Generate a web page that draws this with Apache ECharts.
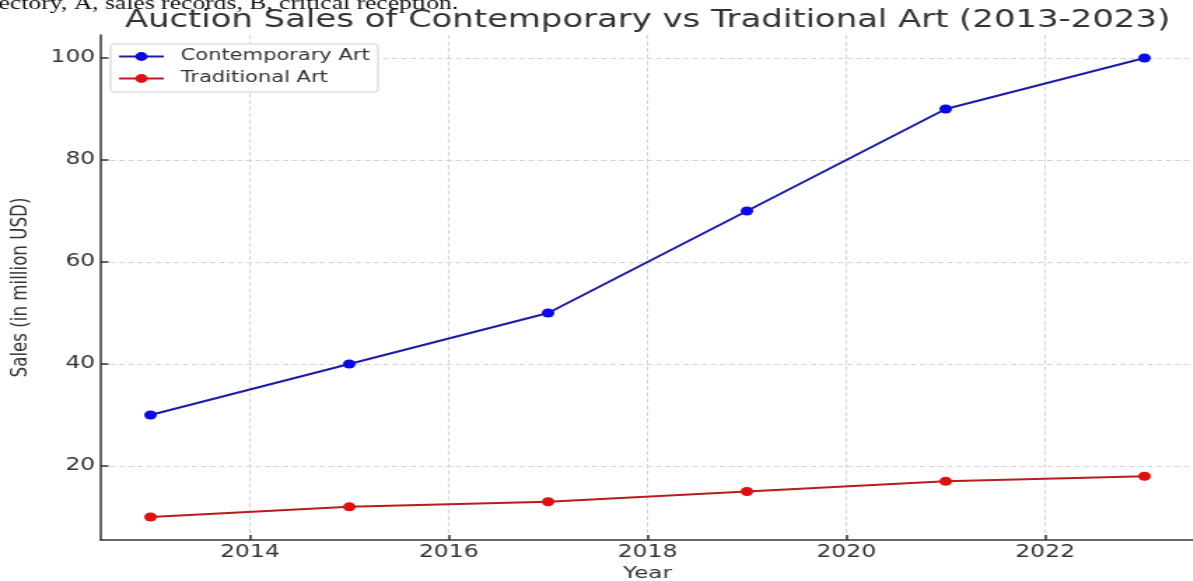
<!DOCTYPE html>
<html>
<head>
<meta charset="utf-8">
<script src="https://cdn.jsdelivr.net/npm/echarts@6/dist/echarts.min.js"></script>
<style>
  html, body { margin: 0; padding: 0; background: #fff; overflow: hidden; }
  #chart { width: 853px; height: 581px; transform: scaleX(1.4); transform-origin: 0 0; }
</style>
</head>
<body>
<div id="chart"></div>
<script>
const years = [2013, 2015, 2017, 2019, 2021, 2023];
const contemporary = [30, 40, 50, 70, 90, 100];
const traditional = [10, 12, 13, 15, 17, 18];
const xTicks = [2014, 2016, 2018, 2020, 2022];
const yTicks = [20, 40, 60, 80, 100];
const seriesNames = ['Contemporary Art', 'Traditional Art'];
const titleText = 'Auction Sales of Contemporary vs Traditional Art (2013-2023)';
const xName = 'Year';
const yName = 'Sales (in million USD)';
const topText = 'ectory, A, sales records, B, critical reception.';

const chart = echarts.init(document.getElementById('chart'));
const font = 'DejaVu Sans';
const gridLine = { show: true, lineStyle: { color: '#d4d4d4', width: 1, type: [4, 2.5] } };
const axisLine = { show: true, lineStyle: { color: '#333', width: 1.5 } };

chart.setOption({
  animation: false,
  backgroundColor: '#fff',
  grid: { left: 72, top: 35, width: 781, height: 505, containLabel: false, outerBoundsMode: 'none' },
  legend: {
    left: 79, top: 44, orient: 'vertical',
    backgroundColor: '#fff', borderColor: '#cfcfcf', borderWidth: 1, borderRadius: 3,
    padding: [5, 6, 6, 5],
    itemWidth: 32, itemHeight: 11, itemGap: 7,
    textStyle: { fontFamily: font, fontSize: 15, color: '#333', lineHeight: 14, padding: [0, 0, 0, 7] },
    data: seriesNames
  },
  xAxis: {
    type: 'value', min: 2012.5, max: 2023.5,
    axisLine: axisLine,
    axisTick: { show: true, inside: true, length: 5, customValues: xTicks, lineStyle: { color: '#333', width: 1.5 } },
    axisLabel: { customValues: xTicks, formatter: v => String(v), margin: 4, fontFamily: font, fontSize: 16.8, color: '#333' },
    splitLine: gridLine
  },
  yAxis: {
    type: 'value', min: 5.5, max: 104.5,
    axisLine: axisLine,
    axisTick: { show: true, inside: true, length: 5.5, customValues: yTicks, lineStyle: { color: '#333', width: 1.5 } },
    axisLabel: { customValues: yTicks, formatter: v => String(v), margin: 4, fontFamily: font, fontSize: 16.8, color: '#333' },
    splitLine: gridLine
  },
  graphic: [
    { type: 'text', x: 462.5, y: 21, style: { text: titleText, fontFamily: font, fontSize: 24.2, fill: '#333', textAlign: 'center', textVerticalAlign: 'middle' } },
    { type: 'text', x: 462.5, y: 574, style: { text: xName, fontFamily: font, fontSize: 16.5, fill: '#333', textAlign: 'center', textVerticalAlign: 'middle' } },
    { type: 'text', x: 15, y: 287.5, rotation: Math.PI / 2, style: { text: yName, fontFamily: font, fontSize: 16.7, fill: '#333', textAlign: 'center', textVerticalAlign: 'middle' } },
    { type: 'text', x: -1, y: 4, style: { text: topText, fontFamily: 'Liberation Serif', fontSize: 18.3, fill: '#111', textAlign: 'left', textVerticalAlign: 'middle' } }
  ],
  series: [
    {
      name: seriesNames[0], type: 'line',
      data: years.map((y, i) => [y, contemporary[i]]),
      symbol: 'circle', symbolSize: 9, showSymbol: true,
      lineStyle: { color: '#1c1ca8', width: 2 },
      itemStyle: { color: '#0a0ae6' }
    },
    {
      name: seriesNames[1], type: 'line',
      data: years.map((y, i) => [y, traditional[i]]),
      symbol: 'circle', symbolSize: 9, showSymbol: true,
      lineStyle: { color: '#b81c1c', width: 2 },
      itemStyle: { color: '#e01010' }
    }
  ]
});
</script>
</body>
</html>
